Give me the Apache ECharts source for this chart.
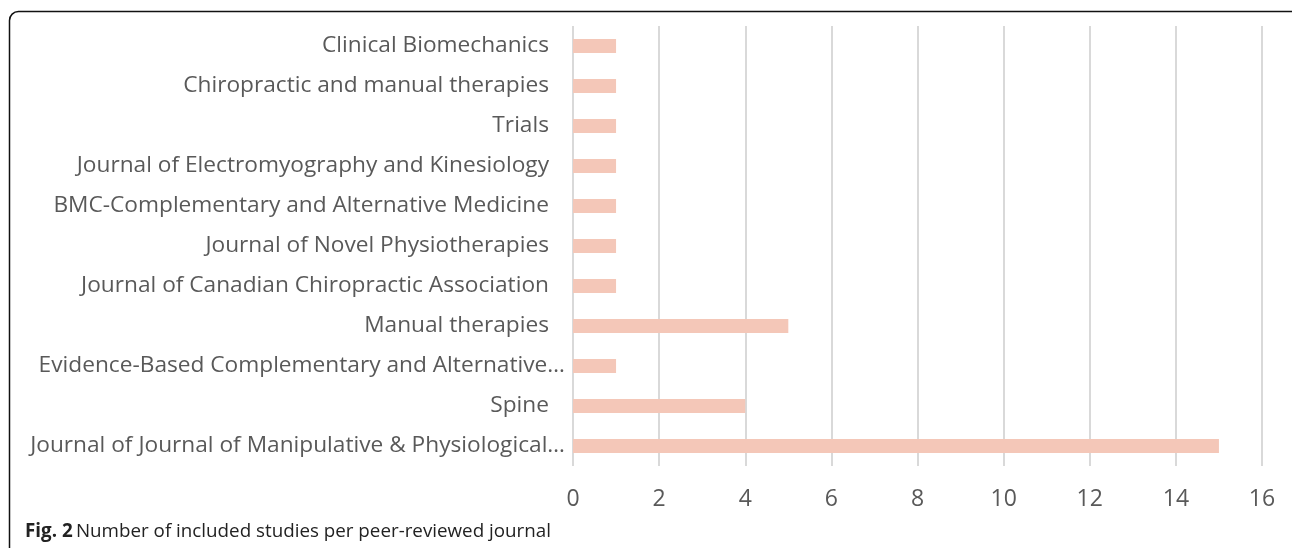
<!DOCTYPE html>
<html>
<head>
<meta charset="utf-8">
<script src="https://cdn.jsdelivr.net/npm/echarts@6/dist/echarts.min.js"></script>
<style>
    html, body { margin: 0; padding: 0; background: #fff; }
    #chart { width: 1292px; height: 548px; }
</style>
</head>
<body>
<div id="chart"></div>
<script>
// journals, listed bottom to top as on the axis
const journals = [
    'Journal of Journal of Manipulative & Physiological…',
    'Spine',
    'Evidence-Based Complementary and Alternative…',
    'Manual therapies',
    'Journal of Canadian Chiropractic Association',
    'Journal of Novel Physiotherapies',
    'BMC-Complementary and Alternative Medicine',
    'Journal of Electromyography and Kinesiology',
    'Trials',
    'Chiropractic and manual therapies',
    'Clinical Biomechanics'
];
const studyCounts = [15, 4, 1, 5, 1, 1, 1, 1, 1, 1, 1];
const xTicks = [0, 2, 4, 6, 8, 10, 12, 14, 16];

const barColor = '#F4C7B8';
const textColor = '#595959';
const labelSize = 22.7;

var chart = echarts.init(document.getElementById('chart'));
var option = {
    animation: false,
    grid: {
        left: 573,
        right: 30,
        top: 26,
        height: 440
    },
    xAxis: {
        type: 'value',
        min: xTicks[0],
        max: xTicks[xTicks.length - 1],
        interval: 2,
        axisLine: { show: false },
        axisTick: { show: false },
        axisLabel: {
            color: textColor,
            fontFamily: 'Open Sans',
            fontSize: 23,
            margin: 22
        },
        splitLine: {
            lineStyle: { color: '#d9d9d9', width: 2 }
        }
    },
    yAxis: {
        type: 'category',
        data: journals,
        axisLine: { show: false },
        axisTick: { show: false },
        axisLabel: {
            color: textColor,
            fontFamily: 'Open Sans',
            fontSize: labelSize,
            margin: 8,
            // truncated names sit closer to the axis
            formatter: function (value) {
                return value.endsWith('…') ? '{t|' + value + '}' : '{n|' + value + '}';
            },
            rich: {
                n: { color: textColor, fontFamily: 'Open Sans', fontSize: labelSize, padding: [0, 16, 0, 0] },
                t: { color: textColor, fontFamily: 'Open Sans', fontSize: labelSize }
            }
        }
    },
    series: [{
        type: 'bar',
        data: studyCounts,
        barWidth: 14,
        itemStyle: { color: barColor }
    }],
    graphic: [
        {
            type: 'rect',
            shape: { x: 9.5, y: 11.5, width: 1300, height: 560, r: [9, 9, 0, 0] },
            style: { fill: 'none', stroke: '#111', lineWidth: 1.5 },
            z: -1
        },
        {
            type: 'text',
            left: 25,
            top: 522,
            style: {
                text: '{b|Fig. 2} {r|Number of included studies per peer-reviewed journal}',
                rich: {
                    b: { fontFamily: 'Open Sans', fontWeight: 'bold', fontSize: 18.8, fill: '#222' },
                    r: { fontFamily: 'Open Sans', fontSize: 18.8, fill: '#222' }
                }
            }
        }
    ]
};
chart.setOption(option);
</script>
</body>
</html>
